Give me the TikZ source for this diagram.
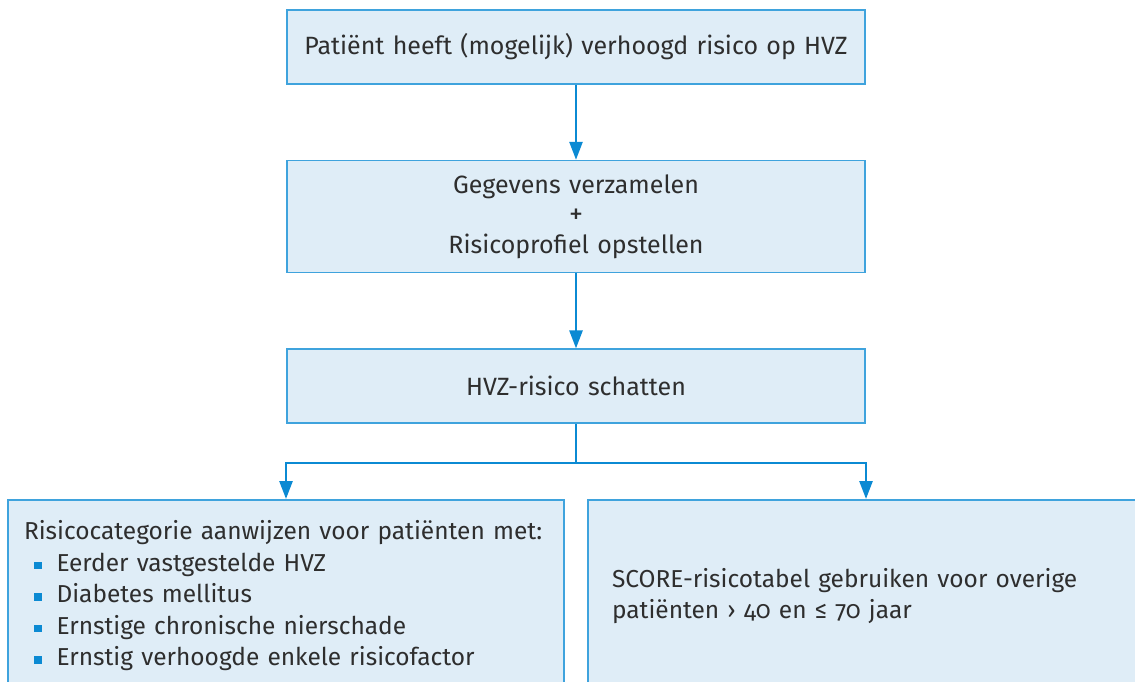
\documentclass[tikz,border=0pt]{standalone}
\usepackage{fontspec}
\setmainfont{Fira Sans}[Numbers=OldStyle]
\usetikzlibrary{arrows.meta, positioning}
\definecolor{hvzfill}{HTML}{DFEDF7}
\definecolor{hvzborder}{HTML}{3FA3DD}
\definecolor{hvzarrow}{HTML}{0B8AD3}
\definecolor{hvztext}{HTML}{2E2E2E}
\tikzset{
    >=Latex,
    font=\fontsize{25}{30}\selectfont,
    node distance=75pt,
    hvz_step/.style={
        rectangle,
        draw=hvzborder,
        fill=hvzfill,
        line width=1.6pt,
        minimum width=578pt,
        minimum height=74pt,
        text width=560pt,
        inner sep=0pt,
        text=hvztext,
        align=center
    },
    hvz_group/.style={
        rectangle,
        draw=hvzborder,
        fill=hvzfill,
        line width=1.6pt,
        minimum height=192pt,
        text width=524pt,
        inner xsep=16pt,
        inner ysep=0pt,
        text=hvztext,
        font=\fontsize{24.5}{31.5}\selectfont,
        align=left
    },
    hvz_line/.style={
        draw=hvzarrow,
        line width=2.6pt
    },
    hvz_arrow/.style={
        hvz_line,
        -{Triangle[length=18pt, width=13pt]}
    }
}
\newcommand{\hvzbullet}{\hspace*{10pt}{\color{hvzarrow}\rule[2pt]{7.5pt}{7.5pt}}\hspace{15pt}}

\begin{document}
\begin{tikzpicture}
\useasboundingbox (0,0) rectangle (1135pt,-682pt);
\clip (0,0) rectangle (1135pt,-682pt);

% --- Main chain ---
\node[hvz_step] (Risico) at (576pt,-47pt) {Patiënt heeft (mogelijk) verhoogd risico op HVZ};
\node[hvz_step, minimum height=112pt, below=of Risico] (Gegevens) {Gegevens verzamelen\\{\fontsize{28}{30}\selectfont +}\\Risicoprofiel opstellen};
\node[hvz_step, below=of Gegevens] (Schatten) {HVZ-risico schatten};

% --- Split ---
\coordinate[below=39pt of Schatten] (Split);
\node[hvz_group, below=77pt of Schatten, xshift=-290pt, yshift=2pt] (Categorie) {Risicocategorie aanwijzen voor patiënten met:\\
\hvzbullet Eerder vastgestelde HVZ\\
\hvzbullet Diabetes mellitus\\
\hvzbullet Ernstige chronische nierschade\\
\hvzbullet Ernstig verhoogde enkele risicofactor};
\node[hvz_group, inner xsep=24pt, text width=508pt, below=77pt of Schatten, xshift=290pt, yshift=2pt] (Score) {SCORE-risicotabel gebruiken voor overige\\patiënten › 40 en ≤ 70 jaar};

% --- Edges ---
\draw[hvz_arrow] (Risico) -- (Gegevens);
\draw[hvz_arrow] (Gegevens) -- (Schatten);
\draw[hvz_line] (Schatten) -- (Split);
\draw[hvz_arrow] (Split) -| (Categorie);
\draw[hvz_arrow] (Split) -| (Score);

\end{tikzpicture}
\end{document}
